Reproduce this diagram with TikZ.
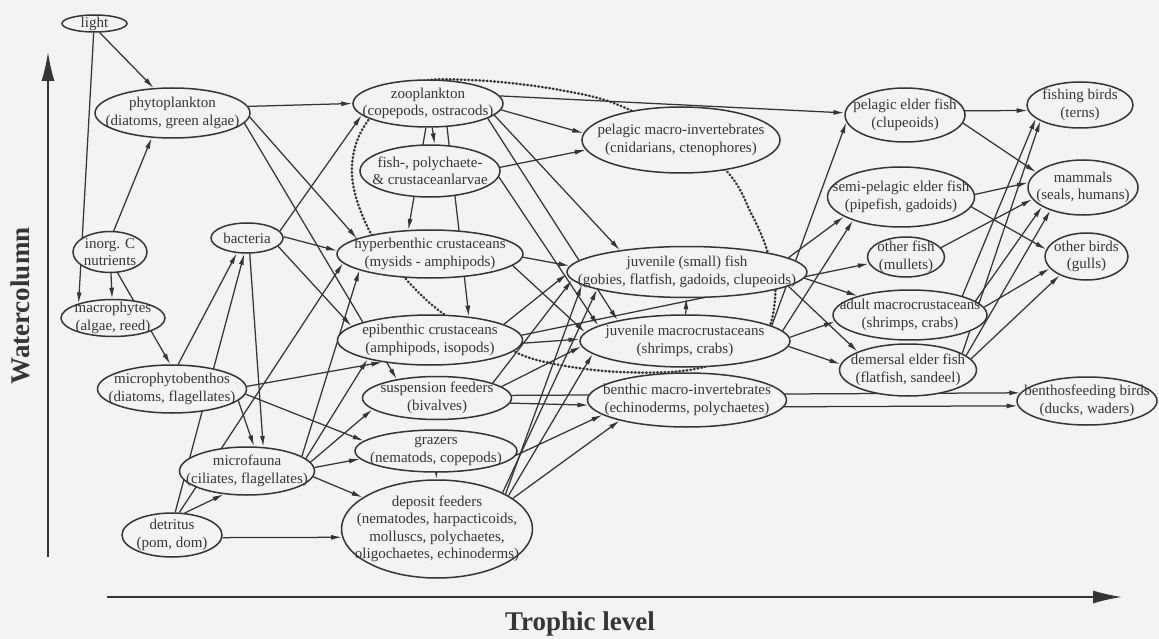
\documentclass[tikz,border=0pt]{standalone}
\usepackage{fontspec}
\setmainfont{Liberation Serif}
\usetikzlibrary{shapes.geometric,arrows.meta}
\pgfdeclarelayer{background}
\pgfsetlayers{background,main}
\definecolor{bg}{HTML}{F3F4F2}
\definecolor{ink}{HTML}{333633}
\newcommand\econode[6]{%
  \node[eco,minimum width=#4pt,minimum height=#5pt] (#1) at (#2,#3) {};
  \node[ecotxt] (#1t) at (#1) {#6};}
\begin{document}
\begin{tikzpicture}[x=1pt,y=-1pt,
  eco/.style={ellipse,draw=ink,line width=1.5pt,fill=bg,inner sep=0pt},
  ecotxt/.style={align=center,inner sep=0pt,text=ink,font=\fontsize{15}{17.5}\selectfont},
  arr/.style={-{Latex[length=11pt,width=5pt]},line width=1.25pt,draw=ink},
  axis/.style={-{Latex[length=29pt,width=13pt]},line width=1.6pt,draw=ink},
  axlbl/.style={text=ink,inner sep=0pt,font=\fontsize{27}{30}\selectfont\bfseries},
  dotcurve/.style={draw=ink,line width=2.5pt,line cap=round,dash pattern=on 0.7pt off 3pt}]
\useasboundingbox (0,0) rectangle (1159,639);

% nodes
\econode{light}{94.5}{23.5}{65}{17}{light}
\econode{phyto}{172.5}{113}{155}{50}{phytoplankton\\(diatoms, green algae)}
\econode{zoo}{428}{103.5}{150}{47}{zooplankton\\(copepods, ostracods)}
\econode{larvae}{430}{171}{140}{52}{fish-, polychaete-\\\& crustaceanlarvae}
\econode{pelmi}{681}{140}{198}{66}{pelagic macro-invertebrates\\(cnidarians, ctenophores)}
\econode{hyper}{430}{254}{186}{48}{hyperbenthic crustaceans\\(mysids - amphipods)}
\econode{epi}{430}{340}{185}{50}{epibenthic crustaceans\\(amphipods, isopods)}
\econode{susp}{437}{398}{149}{43}{suspension feeders\\(bivalves)}
\econode{grazers}{436}{451}{162}{42}{grazers\\(nematods, copepods)}
\econode{deposit}{437}{529}{191}{98}{deposit feeders\\(nematodes, harpacticoids,\\molluscs, polychaetes,\\oligochaetes, echinoderms)}
\econode{juvfish}{687}{272}{240}{51}{juvenile (small) fish\\(gobies, flatfish, gadoids, clupeoids)}
\econode{juvmac}{685}{341}{210}{52}{juvenile macrocrustaceans\\(shrimps, crabs)}
\econode{benmi}{687}{400}{199}{54}{benthic macro-invertebrates\\(echinoderms, polychaetes)}
\econode{bact}{247}{238}{72}{30}{bacteria}
\econode{inorg}{110}{252}{74}{41}{inorg. C\\nutrients}
\econode{macro}{113}{318}{104}{37}{macrophytes\\(algae, reed)}
\econode{mpb}{172}{389}{149}{48}{microphytobenthos\\(diatoms, flagellates)}
\econode{mfauna}{247}{471}{135}{48}{microfauna\\(ciliates, flagellates)}
\econode{detritus}{172}{535}{100}{44}{detritus\\(pom, dom)}
\econode{pef}{905}{115}{120}{54}{pelagic elder fish\\(clupeoids)}
\econode{fishing}{1080}{105}{106}{46}{fishing birds\\(terns)}
\econode{semi}{901}{197}{147}{60}{semi-pelagic elder fish\\(pipefish, gadoids)}
\econode{mammals}{1083}{187.5}{110}{55}{mammals\\(seals, humans)}
\econode{ofish}{906}{257}{77}{40}{other fish\\(mullets)}
\econode{obirds}{1086.5}{256.5}{83}{47}{other birds\\(gulls)}
\econode{adult}{910}{315}{154}{50}{adult macrocrustaceans\\(shrimps, crabs)}
\econode{demersal}{908}{370}{137}{52}{demersal elder fish\\(flatfish, sandeel)}
\econode{benthos}{1087}{401}{140}{48}{benthosfeeding birds\\(ducks, waders)}

\coordinate (vb) at (48,557);
\coordinate (vt) at (48,52);
\coordinate (hl) at (107,597);
\coordinate (hr) at (1122,597);
\node[axlbl,rotate=90] (wc) at (20,306) {Watercolumn};
\node[axlbl] (tl) at (580,624) {Trophic level};

\begin{pgfonlayer}{background}
\fill[bg] (0,0) rectangle (1159,639);
\draw[axis] (vb) -- (vt);
\draw[axis] (hl) -- (hr);
\draw[dotcurve] plot[smooth cycle,tension=0.6] coordinates {
  (470,80) (560,90) (630,110) (720,165) (752,215) (770,260) (775,300)
  (760,340) (700,368) (620,372) (545,362) (500,345) (445,315) (405,278)
  (370,232) (352,175) (365,125) (410,85)};

\draw[arr] (light.-60) -- (phyto.127);
\draw[arr] (light.-95) -- (macro.157);
\draw[arr] (inorg.80) -- (phyto.230);
\draw[arr] (inorg) -- (macro);
\draw[arr] (inorg.-70) -- (mpb.94);
\draw[arr] (phyto.5) -- (zoo.180);
\draw[arr] (phyto.-3) -- (hyper.168);
\draw[arr] (phyto.-8) -- (susp.155);
\draw[arr] (bact.12) -- (zoo.190);
\draw[arr] (bact.2) -- (hyper.178);
\draw[arr] (bact.-15) -- (epi.170);
\draw[arr] (bact.-80) -- (mfauna.56);
\draw[arr] (mpb.-10) -- (mfauna.74);
\draw[arr] (mpb.76) -- (bact.236);
\draw[arr] (mpb.2) -- (epi.205);
\draw[arr] (mpb.-4) -- (grazers.172);
\draw[arr] (detritus.82) -- (bact.260);
\draw[arr] (detritus.60) -- (mfauna.225);
\draw[arr] (detritus.-3) -- (deposit.185);
\draw[arr] (detritus.72) -- (hyper.186);
\draw[arr] (mfauna.15) -- (hyper.193);
\draw[arr] (mfauna.12) -- (epi.197);
\draw[arr] (mfauna.8) -- (susp.190);
\draw[arr] (mfauna.3) -- (grazers.186);
\draw[arr] (mfauna.-5) -- (deposit.157);
\draw[arr] (zoo.-80) -- (larvae.80);
\draw[arr] (zoo.-95) -- (hyper.132);
\draw[arr] (zoo.-51) -- (epi.31);
\draw[arr] (zoo.-5) -- (pelmi.176);
\draw[arr] (zoo.6) -- (pef.178);
\draw[arr] (zoo.-10) -- (juvfish.162);
\draw[arr] (zoo.-14) -- (juvmac.163);
\draw[arr] (larvae.3) -- (pelmi.186);
\draw[arr] (larvae.-5) -- (juvmac.170);
\draw[arr] (hyper.-2) -- (juvfish.177);
\draw[arr] (hyper.-8) -- (juvmac.175);
\draw[arr] (epi.12) -- (juvfish.181);
\draw[arr] (epi.3) -- (ofish.190);
\draw[arr] (epi.-2) -- (juvmac.179);
\draw[arr] (susp.15) -- (juvfish.184);
\draw[arr] (susp.10) -- (juvmac.183);
\draw[arr] (susp.2) -- (benthos.173);
\draw[arr] (susp.-4) -- (benmi.183);
\draw[arr] (grazers.-3) -- (benmi.190);
\draw[arr] (grazers) -- (deposit);
\draw[arr] (deposit.27) -- (juvfish.187);
\draw[arr] (deposit.29) -- (juvfish.191);
\draw[arr] (deposit.25) -- (juvmac.188);
\draw[arr] (deposit.22) -- (benmi.197);
\draw[arr] (juvmac) -- (juvfish);
\draw[arr] (juvfish.8) -- (semi.199);
\draw[arr] (juvfish.-3) -- (adult.160);
\draw[arr] (juvfish.-8) -- (demersal.160);
\draw[arr] (juvmac.10) -- (pef.187);
\draw[arr] (juvmac.6) -- (semi.206);
\draw[arr] (juvmac.2) -- (adult.185);
\draw[arr] (juvmac.-3) -- (demersal.175);
\draw[arr] (benmi.-4) -- (benthos.184);
\draw[arr] (pef.4) -- (fishing.186);
\draw[arr] (pef.-8) -- (mammals.162);
\draw[arr] (semi.2) -- (mammals.175);
\draw[arr] (semi.-8) -- (obirds.170);
\draw[arr] (ofish.15) -- (mammals.193);
\draw[arr] (adult.12) -- (mammals.205);
\draw[arr] (adult.6) -- (obirds.198);
\draw[arr] (adult.20) -- (fishing.197);
\draw[arr] (demersal.14) -- (mammals.215);
\draw[arr] (demersal.10) -- (obirds.215);
\draw[arr] (demersal.17) -- (fishing.202);
\end{pgfonlayer}
\end{tikzpicture}
\end{document}
